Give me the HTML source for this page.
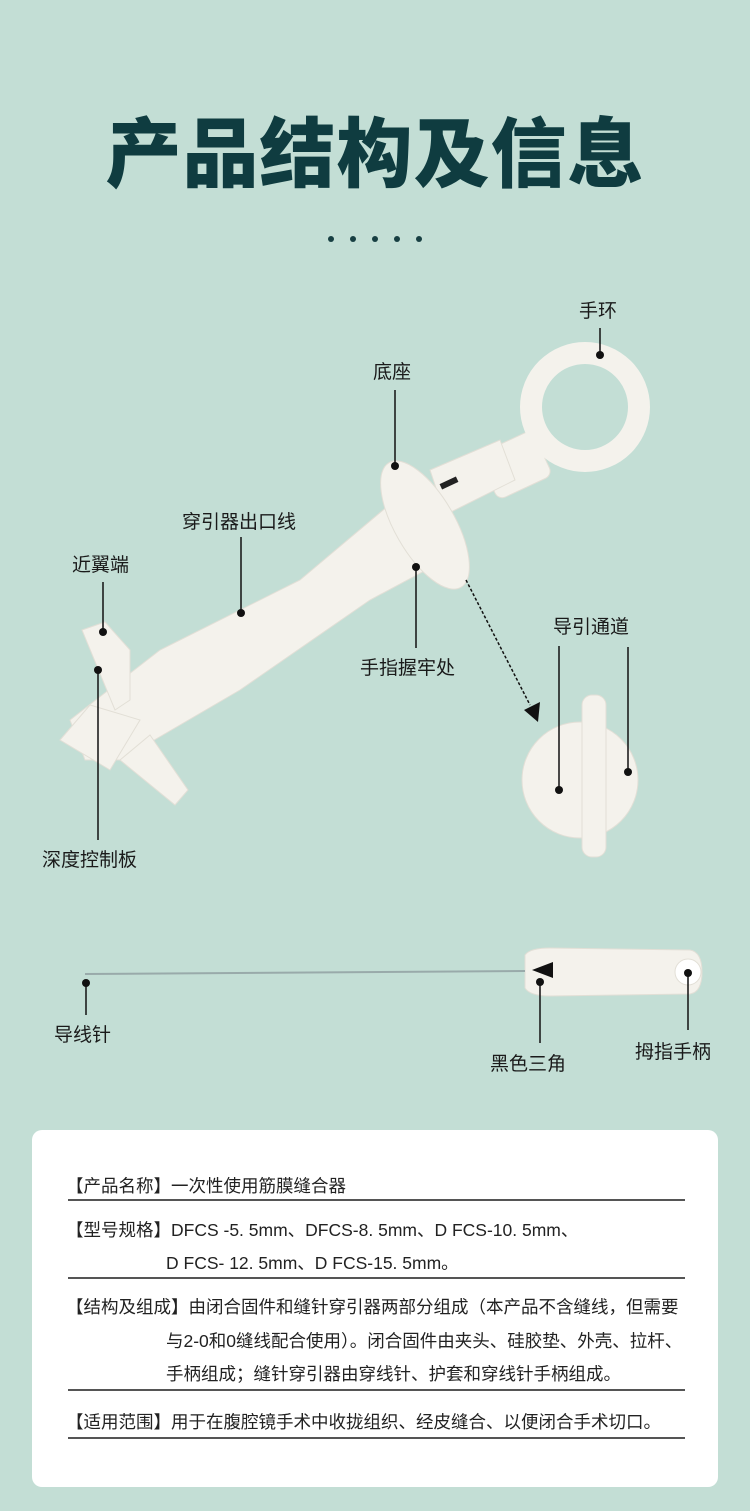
<!DOCTYPE html>
<html><head><meta charset="utf-8"><style>
body{margin:0;width:750px;height:1511px;background:#c3ded5;font-family:"Liberation Sans","Noto Sans CJK SC",sans-serif;position:relative;overflow:hidden}
.t{position:absolute;left:0;width:750px;top:108px;text-align:center;font-size:76px;font-weight:900;color:#0f3c40;letter-spacing:1px;line-height:96px}
.card{position:absolute;left:32px;top:1130px;width:686px;height:357px;background:#fff;border-radius:10px}
.r{position:absolute;left:34px;font-size:17.5px;color:#222;line-height:30px;white-space:nowrap}
.ln{position:absolute;left:36px;width:617px;height:1.5px;background:#555}
.lb{position:absolute;font-size:19px;color:#1a1a1a;white-space:nowrap}
</style></head><body>
<div class="t">产品结构及信息</div>
<svg width="750" height="1130" style="position:absolute;left:0;top:0">
<g fill="#173f42"><circle cx="331" cy="239" r="3"/><circle cx="353" cy="239" r="3"/><circle cx="375" cy="239" r="3"/><circle cx="397" cy="239" r="3"/><circle cx="419" cy="239" r="3"/></g>
<g fill="#f4f2ec" stroke="#e2dfd6" stroke-width="1">
<rect x="485" y="440" width="60" height="50" rx="8" transform="rotate(-25 515 465)"/>
<path d="M430 470 L500 440 L515 480 L445 515 Z"/>
<path d="M70 720 L160 650 L300 580 L395 500 L440 500 L445 560 L370 600 L240 690 L120 760 L85 760 Z"/>
<ellipse cx="425" cy="525" rx="30" ry="72" transform="rotate(-30 425 525)"/>
<path d="M82 630 L105 622 L130 650 L130 700 L115 710 Z"/>
<path d="M60 740 L90 705 L140 720 L110 770 Z"/>
<path d="M120 760 L150 735 L188 790 L175 805 Z"/>
<circle cx="580" cy="780" r="58"/>
<rect x="582" y="695" width="24" height="162" rx="10"/>
<path d="M525 955 Q530 948 550 948 L690 950 Q702 952 702 972 Q702 992 690 994 L550 996 Q530 996 525 988 Z"/>
<circle cx="688" cy="972" r="13" fill="#fff"/>
</g>
<circle cx="585" cy="407" r="54" fill="none" stroke="#f4f2ec" stroke-width="22"/>
<rect x="440" y="480" width="18" height="6" fill="#222" transform="rotate(-25 449 483)"/>
<line x1="85" y1="974" x2="525" y2="971" stroke="#9aa" stroke-width="2"/>
<path d="M532 970 L553 962 L553 978 Z" fill="#111"/>
<g stroke="#111" stroke-width="1.5" fill="none">
<line x1="600" y1="328" x2="600" y2="355"/><line x1="395" y1="390" x2="395" y2="466"/>
<line x1="241" y1="537" x2="241" y2="613"/><line x1="103" y1="582" x2="103" y2="632"/>
<line x1="98" y1="670" x2="98" y2="840"/><line x1="416" y1="567" x2="416" y2="648"/>
<line x1="559" y1="646" x2="559" y2="790"/><line x1="628" y1="647" x2="628" y2="772"/>
<line x1="86" y1="983" x2="86" y2="1015"/><line x1="540" y1="982" x2="540" y2="1043"/>
<line x1="688" y1="973" x2="688" y2="1030"/>
<line x1="466" y1="580" x2="530" y2="705" stroke-dasharray="3,2"/>
</g>
<path d="M524 710 L540 702 L538 722 Z" fill="#111"/>
<g fill="#111"><circle cx="600" cy="355" r="4"/><circle cx="395" cy="466" r="4"/><circle cx="241" cy="613" r="4"/><circle cx="103" cy="632" r="4"/><circle cx="98" cy="670" r="4"/><circle cx="416" cy="567" r="4"/><circle cx="559" cy="790" r="4"/><circle cx="628" cy="772" r="4"/><circle cx="86" cy="983" r="4"/><circle cx="540" cy="982" r="4"/><circle cx="688" cy="973" r="4"/></g>
</svg>
<div class="lb" style="left:579px;top:296px">手环</div>
<div class="lb" style="left:373px;top:357px">底座</div>
<div class="lb" style="left:182px;top:507px">穿引器出口线</div>
<div class="lb" style="left:72px;top:550px">近翼端</div>
<div class="lb" style="left:42px;top:845px">深度控制板</div>
<div class="lb" style="left:360px;top:653px">手指握牢处</div>
<div class="lb" style="left:553px;top:612px">导引通道</div>
<div class="lb" style="left:54px;top:1020px">导线针</div>
<div class="lb" style="left:490px;top:1049px">黑色三角</div>
<div class="lb" style="left:635px;top:1037px">拇指手柄</div>
<div class="card">
<div class="r" style="top:41px">【产品名称】一次性使用筋膜缝合器</div>
<div class="ln" style="top:69px"></div>
<div class="r" style="top:85px">【型号规格】DFCS -5. 5mm、DFCS-8. 5mm、D FCS-10. 5mm、</div>
<div class="r" style="top:118px;left:134px">D FCS- 12. 5mm、D FCS-15. 5mm。</div>
<div class="ln" style="top:147px"></div>
<div class="r" style="top:162px">【结构及组成】由闭合固件和缝针穿引器两部分组成（本产品不含缝线，但需要</div>
<div class="r" style="top:196px;left:134px">与2-0和0缝线配合使用）。闭合固件由夹头、硅胶垫、外壳、拉杆、</div>
<div class="r" style="top:229px;left:134px">手柄组成；缝针穿引器由穿线针、护套和穿线针手柄组成。</div>
<div class="ln" style="top:259px"></div>
<div class="r" style="top:277px">【适用范围】用于在腹腔镜手术中收拢组织、经皮缝合、以便闭合手术切口。</div>
<div class="ln" style="top:307px"></div>
</div>
</body></html>
